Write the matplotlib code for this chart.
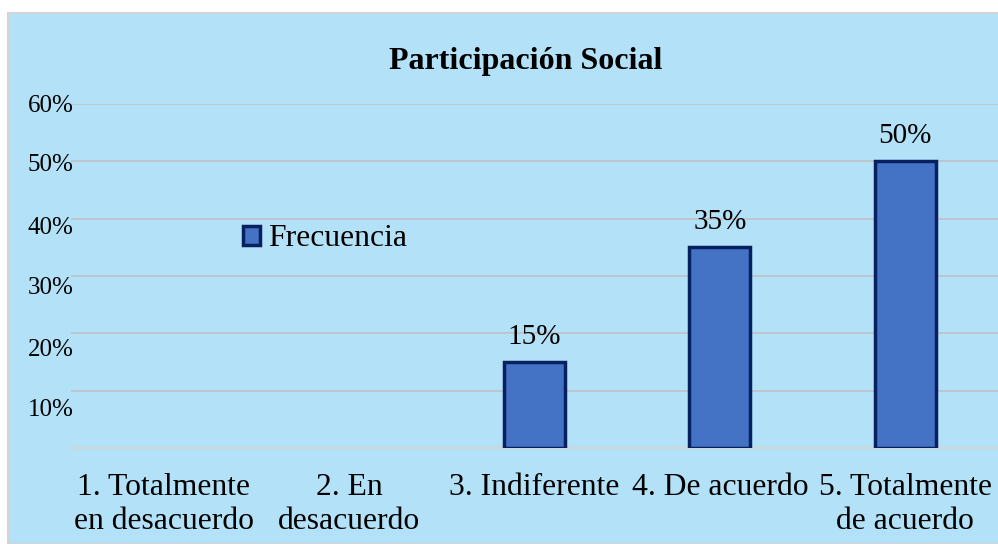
import matplotlib.pyplot as plt
from matplotlib.patches import Rectangle
from matplotlib.transforms import ScaledTranslation
import numpy as np

plt.rcParams['font.family'] = ['Liberation Serif', 'DejaVu Serif']

categorias = ["1. Totalmente\nen desacuerdo", "2. En\ndesacuerdo", "3. Indiferente",
              "4. De acuerdo", "5. Totalmente\nde acuerdo"]
frecuencia = [0.0, 0.0, 0.15, 0.35, 0.50]
y_ticks = [0.1, 0.2, 0.3, 0.4, 0.5, 0.6]
y_labels = ["10%", "20%", "30%", "40%", "50%", "60%"]

fondo = '#B3E1F7'
barra = '#4472C4'
borde = '#062060'

W, H = 998, 544
fig = plt.figure(figsize=(W / 100, H / 100), dpi=100)
fig.patch.set_facecolor('white')
fig.patches.append(Rectangle((8 / W, 0), 1 - 8 / W + 0.01, 1 - 13 / H,
                             transform=fig.transFigure, facecolor=fondo,
                             edgecolor='#D4D4D4', linewidth=1.5, zorder=-10))

ax = fig.add_axes([71 / W, 96 / H, (W - 71) / W, (448 - 104) / H])
ax.set_facecolor('none')

x = np.arange(len(categorias))
lw = [2.5 if v > 0 else 0 for v in frecuencia]
bars = ax.bar(x, frecuencia, width=0.33, color=barra, edgecolor=borde,
              linewidth=lw, zorder=3, label='Frecuencia')
ax.bar_label(bars, labels=[f"{v:.0%}" if v > 0 else "" for v in frecuencia],
             padding=9, fontsize=21, color='black')

ax.set_xlim(-0.5, len(categorias) - 0.5)
ax.set_ylim(0, 0.6)
ax.set_yticks(y_ticks, y_labels)
ax.set_xticks(x, categorias)
ax.yaxis.grid(True, color='#BFBFBF', linewidth=1.1, zorder=1)
ax.set_axisbelow(True)
for s in ['top', 'right', 'left']:
    ax.spines[s].set_visible(False)
ax.spines['bottom'].set_color('#D4D4D4')
ax.spines['bottom'].set_linewidth(1.5)
ax.tick_params(axis='y', length=0, labelsize=18, pad=-2)
ax.tick_params(axis='x', length=0, labelsize=22.8, pad=18)
for lab in ax.get_xticklabels():
    lab.set_linespacing(1.22)

# las etiquetas del eje y en el original quedan algo desplazadas hacia abajo
desplaz = [17, 14, 10, 7, 1, -1]
for lab, d in zip(ax.get_yticklabels(), desplaz):
    lab.set_transform(lab.get_transform() + ScaledTranslation(0, -d / 100, fig.dpi_scale_trans))

fig.text(526 / W, 1 - 61 / H, "Participación Social", ha='center', va='center',
         fontsize=23, fontweight='bold')

leg = ax.legend(loc='center left', bbox_to_anchor=(243 / W, 1 - 239 / H),
                bbox_transform=fig.transFigure, frameon=False, fontsize=22.8,
                handlelength=0.55, handleheight=0.55, handletextpad=0.25,
                borderpad=0, borderaxespad=0)
leg.legend_handles[0].set_linewidth(2.5)
leg.legend_handles[0].set_edgecolor(borde)

fig.savefig('out.png', dpi=100, facecolor=fig.get_facecolor())
